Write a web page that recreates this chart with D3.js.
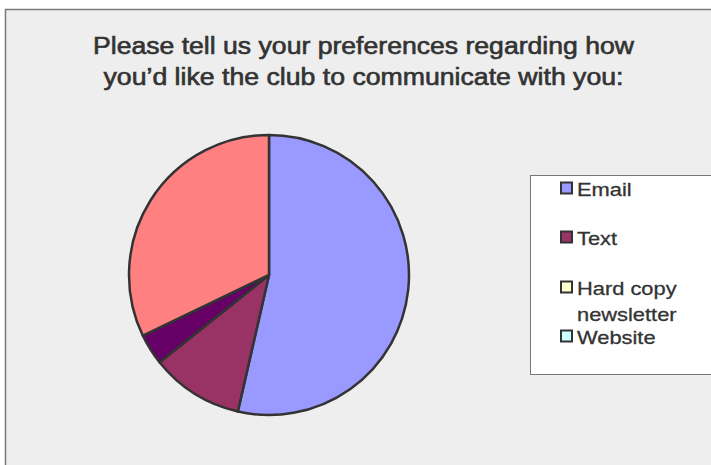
<!DOCTYPE html>
<html>
<head>
<meta charset="utf-8">
<script src="https://cdn.jsdelivr.net/npm/d3@7"></script>
<style>
  html, body { margin: 0; padding: 0; background: #fff; }
  svg { display: block; font-family: "Liberation Sans", Arial, sans-serif; }
</style>
</head>
<body>
<svg id="chart" width="711" height="465"></svg>
<script>
// survey answers (counts)
var categories = ['Email', 'Text', 'Hard copy newsletter', 'Website', 'Other 1', 'Other 2'];
var counts = [15, 3, 0, 0, 1, 9];
var colors = ['#9999ff', '#993366', '#ffffcc', '#ccffff', '#660066', '#ff8080'];
var titleLines = ['Please tell us your preferences regarding how', 'you\u2019d like the club to communicate with you:'];
// only the first four make it into the (clipped) legend box
var legendItems = [['Email'], ['Text'], ['Hard copy', 'newsletter'], ['Website']];

var svg = d3.select('#chart');

// chart area, runs off the right and bottom edge
svg.append('rect')
  .attr('x', 5.5).attr('y', 9.5)
  .attr('width', 720).attr('height', 470)
  .attr('fill', '#eeeeee')
  .attr('stroke', '#7a7a7a')
  .attr('stroke-width', 1.5);

// title
var title = svg.append('g').attr('fill', '#333').attr('stroke', '#333').attr('stroke-width', 0.6);
var titleW = [541, 520];
titleLines.forEach(function(t, i) {
  title.append('text')
    .attr('x', 363.5)
    .attr('y', 54 + i * 31)
    .attr('text-anchor', 'middle')
    .attr('font-size', 23)
    .attr('textLength', titleW[i])
    .attr('lengthAdjust', 'spacingAndGlyphs')
    .text(t);
});

// pie
var cx = 269, cy = 275, r = 140;
var pie = d3.pie().sort(null).value(function(d) { return d; });
var arc = d3.arc().innerRadius(0).outerRadius(r);
var color = d3.scaleOrdinal().domain(categories).range(colors);

var g = svg.append('g').attr('transform', 'translate(' + cx + ',' + cy + ')');
g.selectAll('path')
  .data(pie(counts).filter(function(d) { return d.value > 0; }))
  .enter().append('path')
  .attr('d', arc)
  .attr('fill', function(d) { return color(categories[d.index]); })
  .attr('stroke', '#333')
  .attr('stroke-width', 2.5)
  .attr('stroke-linejoin', 'round');

// legend
svg.append('rect')
  .attr('x', 530.5).attr('y', 175.5)
  .attr('width', 200).attr('height', 199)
  .attr('fill', '#fff')
  .attr('stroke', '#777')
  .attr('stroke-width', 1);

var baseY = [196, 245, 295, 344];
var leg = svg.append('g');
legendItems.forEach(function(lines, i) {
  leg.append('rect')
    .attr('x', 561).attr('y', baseY[i] - 13.5)
    .attr('width', 11).attr('height', 11)
    .attr('fill', colors[i])
    .attr('stroke', '#333')
    .attr('stroke-width', 2);
  lines.forEach(function(l, j) {
    var t = leg.append('text')
      .attr('x', 577)
      .attr('y', baseY[i] + j * 25.5)
      .attr('font-size', 19)
      .attr('fill', '#333')
      .attr('stroke', '#333')
      .attr('stroke-width', 0.3)
      .text(l);
    // the source font runs wider than Liberation Sans
    var w = t.node().getComputedTextLength();
    t.attr('textLength', w * 1.15).attr('lengthAdjust', 'spacingAndGlyphs');
  });
});
</script>
</body>
</html>
